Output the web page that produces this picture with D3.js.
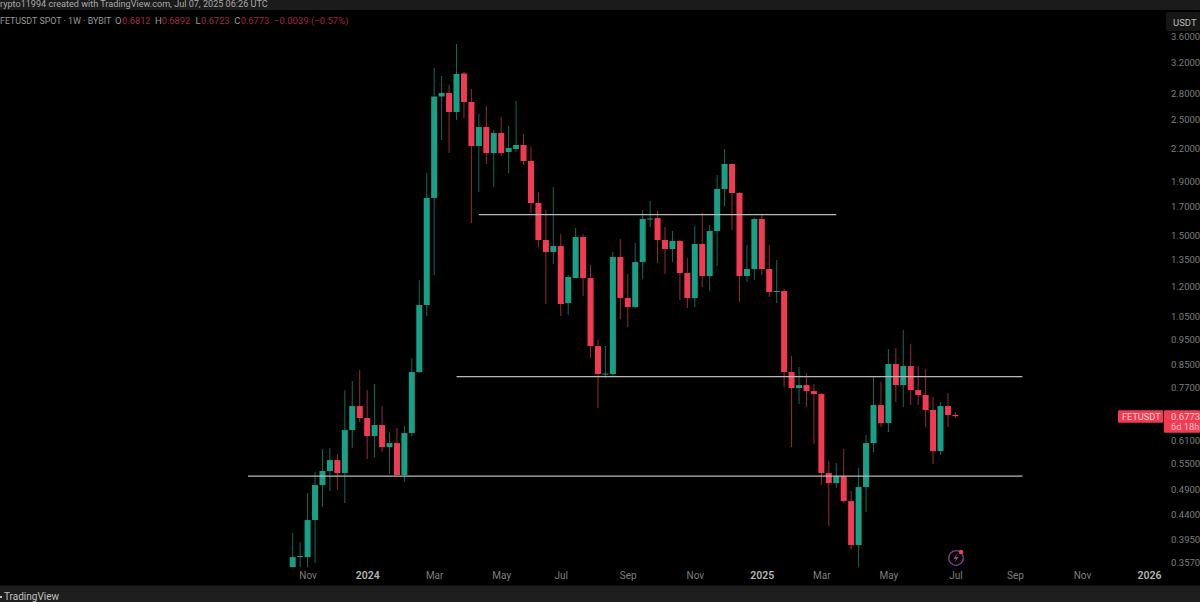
<!DOCTYPE html>
<html><head><meta charset="utf-8">
<script src="https://cdnjs.cloudflare.com/ajax/libs/d3/7.8.5/d3.min.js"></script>
<style>html,body{margin:0;padding:0;background:#000;overflow:hidden}svg{display:block;font-family:Roboto,"Noto Sans",sans-serif}</style>
</head><body><svg id="c" width="1200" height="602"></svg>
<script>
const firstWeek = "2023-10-23";
const opens = [.3491,.3648,.3648,.4292,.5006,.5324,.5587,.5277,.6374,.7083,.6720,.6208,.6516,.5915,.6020,.5231,.6290,.8224,1.1040,1.7667,2.7596,2.8024,2.5779,3.0533,2.6938,2.2202,2.4134,2.1529,2.3507,2.1624,2.1911,2.2300,2.0786,1.7283,1.4690,1.3935,1.4307,1.1137,1.2430,1.4884,1.2430,.9220,.8152,.8152,1.3632,1.1385,1.0943,1.3336,1.6109,1.6180,1.4690,1.4120,1.4625,1.2706,1.1385,1.4434,1.2540,1.5282,1.8380,2.0513,1.8060,1.2540,1.2932,1.6109,1.2932,1.1689,1.1740,.8224,.7666,.7767,.7565,.7466,.5277,.5050,.5208,.4666,.3846,.4962,.6020,.7114,.6574,.8519,.7767,.8444,.7599,.7434,.6960,.5812,.7083,.6812];
const highs = [.4054,.3897,.4833,.5300,.5864,.5889,.5736,.7599,.7905,.8297,.7599,.7802,.7083,.6318,.6430,.6488,.8747,1.2322,1.9718,3.1278,3.0198,2.9026,3.4757,3.0733,2.8521,2.5554,2.6468,2.3819,2.5219,2.4241,2.7056,2.3404,2.2105,1.8139,1.6759,1.8542,1.5082,1.2595,1.5485,1.5082,1.3161,.9466,.9220,1.3935,1.4754,1.2651,1.4497,1.6759,1.7436,1.6686,1.5553,1.5282,1.4690,1.3572,1.5621,1.6540,1.5690,1.9546,2.1911,2.0513,1.8139,1.4370,1.6180,1.6395,1.4370,1.3453,1.1844,.8824,.8407,.8188,.7802,.7500,.5562,.5514,.5864,.4876,.5394,.6235,.8046,.7871,.9100,.9140,.9891,.9301,.8444,.8333,.7369,.7208,.7500,.6892];
const lows = [.3491,.3491,.3491,.3553,.4545,.4876,.4897,.4626,.5889,.6603,.5612,.5661,.5787,.5254,.5231,.5073,.6208,.8188,1.0519,1.2595,2.2795,2.1529,2.4889,2.5108,1.5829,1.8139,2.0513,1.8542,2.1247,1.9718,2.1624,2.0424,1.6540,1.4244,1.1088,1.3219,1.0519,1.0565,1.3277,1.1485,.8747,.7021,.8010,.8116,1.0381,1.0022,1.0895,1.2376,1.5553,1.3277,1.2651,1.3336,1.1285,1.0895,1.0943,1.1948,1.1740,1.3103,1.7057,1.5349,1.1186,1.2214,1.2322,1.2595,1.1435,1.1137,.7699,.5915,.7145,.7052,.5994,.5006,.4180,.4941,.4626,.3762,.3491,.4446,.5787,.6458,.6318,.7208,.7052,.7114,.7114,.6458,.5490,.5711,.6458,.6723];
const closes = [.3648,.3664,.4292,.5006,.5324,.5587,.5277,.6374,.7083,.6720,.6208,.6516,.5915,.6020,.5231,.6290,.8224,1.1040,1.7667,2.7596,2.8024,2.5779,3.0465,2.6938,2.2202,2.4134,2.1529,2.3507,2.1529,2.2007,2.2300,2.0786,1.7283,1.4690,1.3935,1.4307,1.1088,1.2485,1.4884,1.2430,.9220,.8152,.8170,1.3632,1.1385,1.0943,1.3336,1.6109,1.6144,1.4690,1.4120,1.4625,1.2706,1.1385,1.4434,1.2540,1.5282,1.8380,2.0513,1.8060,1.2540,1.2932,1.6109,1.2932,1.1689,1.1740,.8224,.7666,.7767,.7565,.7466,.5277,.5050,.5208,.4666,.3846,.4962,.6020,.7114,.6574,.8519,.7767,.8444,.7599,.7434,.6960,.5812,.7083,.6812,.6773];

const priceTicks = [3.6,3.2,2.8,2.5,2.2,1.9,1.7,1.5,1.35,1.2,1.05,.95,.85,.77,.61,.55,.49,.44,.395,.357];
const timeTickDates = ["2023-11-06","2024-01-01","2024-03-04","2024-05-06","2024-07-01","2024-09-02","2024-11-04","2025-01-06","2025-03-03","2025-05-05","2025-07-07","2025-09-01","2025-11-03","2026-01-05"];
const timeTickLabels = ["Nov","2024","Mar","May","Jul","Sep","Nov","2025","Mar","May","Jul","Sep","Nov","2026"];
const levelPrices = [1.643,.8063,.5208];
const levelStarts = ["2024-04-15","2024-03-25","2023-09-11"];
const levelEnds = ["2025-03-17","2025-09-08","2025-09-08"];
const headerWords = ["FETUSDT SPOT · 1W · BYBIT"];
const ohlcLabels = ["O","H","L","C"];
const ohlcValues = ["0.6812","0.6892","0.6723","0.6773"];
const changeText = "−0.0039 (−0.57%)";
const watermark = "rypto11994 created with TradingView.com, Jul 07, 2025 06:26 UTC";

const GREEN="#17a086", RED="#f23b52", WICK_G="#0f6a59", WICK_R="#97293a";
const d = s => new Date(s+"T00:00:00Z");
const week = 7*864e5;
const x = d3.scaleUtc().domain([d(firstWeek), new Date(+d(firstWeek)+115*week)]).range([292.7,1149]);
const y = d3.scaleLog().domain([3.6,.357]).range([36,562]);
const svg = d3.select("#c");
svg.append("rect").attr("width",1200).attr("height",602).attr("fill","#000");

const candles = opens.map((o,i)=>({t:new Date(+d(firstWeek)+i*week),o,h:highs[i],l:lows[i],c:closes[i]}));
const bw = 6;
const g = svg.append("g");
g.selectAll("line.w").data(candles).join("line").attr("class","w")
 .attr("x1",c=>x(c.t)).attr("x2",c=>x(c.t)).attr("y1",c=>y(c.h)).attr("y2",c=>y(c.l))
 .attr("stroke",c=>c.c>=c.o?WICK_G:WICK_R).attr("stroke-width",1);
g.selectAll("rect.b").data(candles).join("rect").attr("class","b")
 .attr("x",c=>x(c.t)-bw/2).attr("width",bw)
 .attr("y",c=>Math.min(y(c.o),y(c.c))).attr("height",c=>Math.max(1,Math.abs(y(c.o)-y(c.c))))
 .attr("fill",c=>c.c>=c.o?GREEN:RED);

svg.append("g").selectAll("line").data(levelPrices).join("line")
 .attr("x1",(p,i)=>x(d(levelStarts[i]))).attr("x2",(p,i)=>x(d(levelEnds[i])))
 .attr("y1",p=>y(p)).attr("y2",p=>y(p)).attr("stroke","#b9b9b9").attr("stroke-width",1.3);

// price axis
const ya = d3.axisRight(y).tickValues(priceTicks).tickSize(0).tickPadding(0).tickFormat(d3.format(".4f"));
const yg = svg.append("g").attr("transform","translate(1171,0)").call(ya);
yg.select(".domain").remove();
yg.selectAll("text").attr("fill","#7e7e7e").attr("font-size",9.5).attr("font-family","Roboto,sans-serif");

// time axis
const labelOf = new Map(timeTickDates.map((s,i)=>[+d(s),timeTickLabels[i]]));
const xa = d3.axisBottom(x).tickValues(timeTickDates.map(d)).tickSize(0).tickPadding(0).tickFormat(v=>labelOf.get(+v));
const xg = svg.append("g").attr("transform","translate(0,572)").call(xa);
xg.select(".domain").remove();
xg.selectAll("text").attr("font-family","Roboto,sans-serif")
 .attr("fill",(v)=>/^\d/.test(labelOf.get(+v))?"#b4b4b4":"#7e7e7e")
 .attr("font-weight",v=>/^\d/.test(labelOf.get(+v))?600:400)
 .attr("font-size",v=>/^\d/.test(labelOf.get(+v))?10.5:10);

// top & bottom bars
svg.append("rect").attr("width",1200).attr("height",10).attr("fill","#1b1b1b");
svg.append("text").attr("x",0).attr("y",7).attr("font-size",9.1).attr("fill","#a8a8a8").text(watermark);
svg.append("rect").attr("y",585.5).attr("width",1200).attr("height",16.5).attr("fill","#1e1e1e");
svg.append("rect").attr("x",0).attr("y",596).attr("width",2).attr("height",2).attr("fill","#c0c0c0");
svg.append("text").attr("x",4).attr("y",599.5).attr("font-size",10).attr("fill","#c0c0c0").text("TradingView");

// header
svg.append("text").attr("x",0).attr("y",24).attr("font-size",8.9).attr("fill","#9a9a9a").text(headerWords[0]);
const labelX=[115,155,195.5,234.3], valueX=[122,161.7,201,240.7];
ohlcLabels.forEach((l,i)=>{
  svg.append("text").attr("x",labelX[i]).attr("y",24).attr("font-size",9.5).attr("fill","#9a9a9a").text(l);
  svg.append("text").attr("x",valueX[i]).attr("y",24).attr("font-size",9.3).attr("fill","#a32a3d").text(ohlcValues[i]);
});
svg.append("text").attr("x",274).attr("y",24).attr("font-size",9.5).attr("fill","#a32a3d").text(changeText);

// unit button
svg.append("rect").attr("x",1166).attr("y",12).attr("width",34).attr("height",19).attr("rx",2).attr("fill","#161616");
svg.append("text").attr("x",1173).attr("y",25.5).attr("font-size",9.5).attr("fill","#b8b8b8").text("USDT");

// last price tags
const last = closes[closes.length-1];
const ty = y(last);
svg.append("rect").attr("x",1118).attr("y",ty-6).attr("width",45).attr("height",12.5).attr("rx",1).attr("fill",RED);
svg.append("text").attr("x",1122).attr("y",ty+3.5).attr("font-size",9.2).attr("fill","#f7d5da").text("FETUSDT");
svg.append("rect").attr("x",1164).attr("y",ty-6).attr("width",36).attr("height",22.5).attr("rx",1).attr("fill",RED);
svg.append("text").attr("x",1171).attr("y",ty+3.5).attr("font-size",9.5).attr("fill","#f7d5da").text(d3.format(".4f")(last));
svg.append("text").attr("x",1171).attr("y",ty+13.5).attr("font-size",9.3).attr("fill","#f7c0c8").text("6d 18h");

// bolt icon
const ic = svg.append("g").attr("transform","translate(956,558)");
ic.append("circle").attr("r",7.3).attr("fill","none").attr("stroke","#8a3f97").attr("stroke-width",1.3);
ic.append("path").attr("d","M1.5,-4.5 L-2.5,0.8 L0,0.8 L-1.5,4.5 L2.5,-1 L0,-1 Z").attr("fill","#a04a8e");
ic.append("circle").attr("cx",5).attr("cy",-6).attr("r",2.2).attr("fill","#e8426a");
</script></body></html>
